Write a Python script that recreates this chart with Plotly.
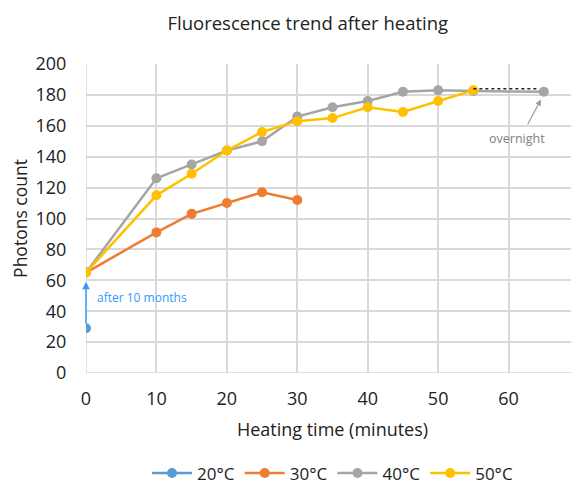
import plotly.graph_objects as go

x20 = [0]
y20 = [29]
x30 = [0, 10, 15, 20, 25, 30]
y30 = [65, 91, 103, 110, 117, 112]
x40 = [0, 10, 15, 20, 25, 30, 35, 40, 45, 50, 55, 65]
y40 = [65, 126, 135, 144, 150, 166, 172, 176, 182, 183, 182.5, 182]
x50 = [0, 10, 15, 20, 25, 30, 35, 40, 45, 50, 55]
y50 = [65, 115, 129, 144, 156, 163, 165, 172, 169, 176, 183]
dash_x = [55, 64.2]
dash_y = [184, 184]

F = "Open Sans"
fig = go.Figure()
def add(x, y, name, color):
    fig.add_trace(go.Scatter(x=x, y=y, name=name, mode="lines+markers",
                             line=dict(color=color, width=2.5),
                             marker=dict(color=color, size=10)))
add(x20, y20, "20°C", "#5B9BD5")
add(x30, y30, "30°C", "#ED7D31")
add(x40, y40, "40°C", "#A5A5A5")
add(x50, y50, "50°C", "#FFC000")
fig.add_trace(go.Scatter(x=dash_x, y=dash_y, mode="lines", showlegend=False,
                         line=dict(color="#222222", width=1.5, dash="dot")))

fig.add_annotation(x=0, y=59, ax=0, ay=31, xref="x", yref="y", axref="x", ayref="y",
                   showarrow=True, arrowhead=2, arrowsize=1, arrowwidth=1.5,
                   arrowcolor="#3399FF", text="")
fig.add_annotation(x=1.3, y=49, xref="x", yref="y", text="after 10 months", showarrow=False,
                   xanchor="left", font=dict(family=F, size=12, color="#3399FF"))
fig.add_annotation(x=64.6, y=177, ax=62.6, ay=160, xref="x", yref="y", axref="x", ayref="y",
                   showarrow=True, arrowhead=2, arrowsize=1, arrowwidth=1.2,
                   arrowcolor="#999999", text="")
fig.add_annotation(x=61.2, y=152, xref="x", yref="y", text="overnight", showarrow=False,
                   font=dict(family=F, size=12.5, color="#808080"))

fig.update_layout(
    width=571, height=478,
    margin=dict(l=78, r=0, t=56, b=113, pad=0, autoexpand=False),
    paper_bgcolor="white", plot_bgcolor="white",
    font=dict(family=F, color="#222222"),
    title=dict(text="Fluorescence trend after heating", x=0.525, xanchor="center",
               y=0.967, yanchor="middle", font=dict(family=F, size=18.5, color="#222222")),
    xaxis=dict(range=[0, 70], tickvals=[0, 10, 20, 30, 40, 50, 60], showgrid=True,
               gridcolor="#D9D9D9", gridwidth=1.5, zeroline=False, showline=False,
               automargin=False,
               tickfont=dict(size=18), ticks="outside", ticklen=9, tickcolor="rgba(0,0,0,0)",
               title=dict(text="Heating time (minutes)", font=dict(size=18), standoff=14)),
    yaxis=dict(range=[0, 200], dtick=20, showgrid=True, gridcolor="#D9D9D9", gridwidth=1.5,
               zeroline=False, showline=False, tickfont=dict(size=18), automargin=False,
               ticks="outside", ticklen=15, tickcolor="rgba(0,0,0,0)",
               title=dict(text="Photons count", font=dict(size=17.5), standoff=10)),
    legend=dict(orientation="h", x=0.5, xanchor="center", y=-0.325, yanchor="middle",
                font=dict(size=17), itemwidth=40),
)
fig.add_shape(type="line", xref="x", yref="y", x0=0, x1=0, y0=0, y1=200,
              line=dict(color="#D9D9D9", width=1.5), layer="below")
fig.add_shape(type="line", xref="x", yref="y", x0=0, x1=70, y0=0, y1=0,
              line=dict(color="#D9D9D9", width=1.5), layer="below")
fig.write_html("out.html")
